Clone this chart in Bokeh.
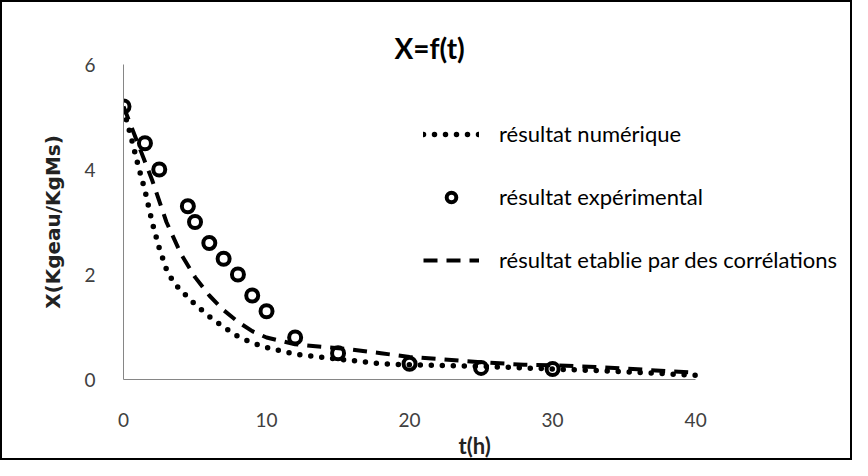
from bokeh.plotting import figure
from bokeh.models import Legend, LegendItem, Title, Range1d, FixedTicker
from bokeh.embed import file_html
from bokeh.resources import INLINE

# ---- data ----
t_exp = [0, 1.5, 2.5, 4.5, 5, 6, 7, 8, 9, 10, 12, 15, 20, 25, 30]
x_exp = [5.2, 4.5, 4.0, 3.3, 3.0, 2.6, 2.3, 2.0, 1.6, 1.3, 0.8, 0.5, 0.3, 0.22, 0.2]

t_num = [0, 0.5, 1, 1.5, 2, 2.5, 3, 3.5, 4, 5, 6, 7, 8, 9, 10, 12, 14, 16, 18, 20, 25, 30, 35, 40]
x_num = [5.15, 4.65, 4.1, 3.6, 3.0, 2.5, 2.1, 1.85, 1.7, 1.43, 1.2, 1.0, 0.82, 0.7, 0.61,
         0.48, 0.42, 0.36, 0.3, 0.28, 0.25, 0.2, 0.15, 0.08]

t_cor = [0, 1, 2, 3, 4, 5, 6, 7, 8, 9, 10, 12, 14, 16, 18, 20, 22, 25, 28, 30, 33, 35, 38, 40]
x_cor = [5.2, 4.5, 3.8, 3.0, 2.4, 1.95, 1.6, 1.32, 1.1, 0.92, 0.8, 0.67, 0.62, 0.57, 0.5,
         0.43, 0.39, 0.33, 0.28, 0.27, 0.24, 0.21, 0.16, 0.13]

x_ticks = [0, 10, 20, 30, 40]
y_ticks = [0, 2, 4, 6]

names = ["résultat numérique", "résultat expérimental", "résultat etablie par des corrélations"]
title_text = "X=f(t)"
x_title = "t(h)"
y_title = "X(Kgeau/KgMs)"

FONT = "Lato"

# layout (pixels)
W, H = 852, 460
BORDER = 2
LEFT, TOP, BOTTOM = 121, 62, 83
AXIS_PX = 569                     # pixel length of the 0..40 axis
frame_w = (W - 2 * BORDER) - LEFT  # frame runs to the right edge so the legend is not clipped
x_end = x_ticks[-1] * frame_w / AXIS_PX

p = figure(width=W, height=H, output_backend="svg", toolbar_location=None,
           x_range=Range1d(0, x_end), y_range=Range1d(0, 6),
           min_border_left=LEFT, min_border_right=0, min_border_top=TOP, min_border_bottom=BOTTOM)
p.styles = {"border": "2px solid black"}
p.outline_line_color = None
p.xgrid.visible = False
p.ygrid.visible = False

r_num = p.line(t_num, x_num, line_color="black", line_width=5.5, line_dash="0 11", line_cap="round")
r_cor = p.line(t_cor, x_cor, line_color="black", line_width=4, line_dash="14 9")
r_exp = p.scatter(t_exp, x_exp, marker="circle", size=12, line_color="black", line_width=4,
                  fill_color=None)

for ax in (p.xaxis[0], p.yaxis[0]):
    ax.axis_line_color = "#868686"
    ax.major_tick_line_color = None
    ax.minor_tick_line_color = None
    ax.major_label_text_font = FONT
    ax.major_label_text_font_size = "19px"
    ax.major_label_text_color = "#404040"

p.xaxis[0].ticker = FixedTicker(ticks=x_ticks)
p.xaxis[0].bounds = (x_ticks[0], x_ticks[-1])
p.yaxis[0].ticker = FixedTicker(ticks=y_ticks)
p.xaxis[0].major_label_standoff = 27
p.yaxis[0].major_label_standoff = 22
p.yaxis[0].axis_label = y_title
p.yaxis[0].axis_label_text_font = "DejaVu Sans"
p.yaxis[0].axis_label_text_font_style = "bold"
p.yaxis[0].axis_label_text_font_size = "20px"
p.yaxis[0].axis_label_text_color = "#222222"
p.yaxis[0].axis_label_standoff = 16

p.title.text = title_text
p.title.align = "left"
p.title.offset = 271
p.title.text_font = FONT
p.title.text_font_size = "28px"
p.title.text_font_style = "bold"
p.title.text_color = "black"
p.title.standoff = 0

p.add_layout(Title(text=x_title, align="left", offset=335, text_font=FONT,
                   text_font_size="22px", text_font_style="bold", text_color="#222222",
                   standoff=0), "below")

legend = Legend(items=[LegendItem(label=names[0], renderers=[r_num]),
                       LegendItem(label=names[1], renderers=[r_exp]),
                       LegendItem(label=names[2], renderers=[r_cor])],
                location=(300, 106), orientation="vertical",
                glyph_width=56, glyph_height=24, label_height=24, label_standoff=20,
                spacing=36, padding=0, margin=0,
                label_text_font=FONT, label_text_font_size="22px", label_text_color="black",
                background_fill_alpha=0, border_line_color=None)
p.add_layout(legend)

open("out.html", "w").write(file_html(p, INLINE))
